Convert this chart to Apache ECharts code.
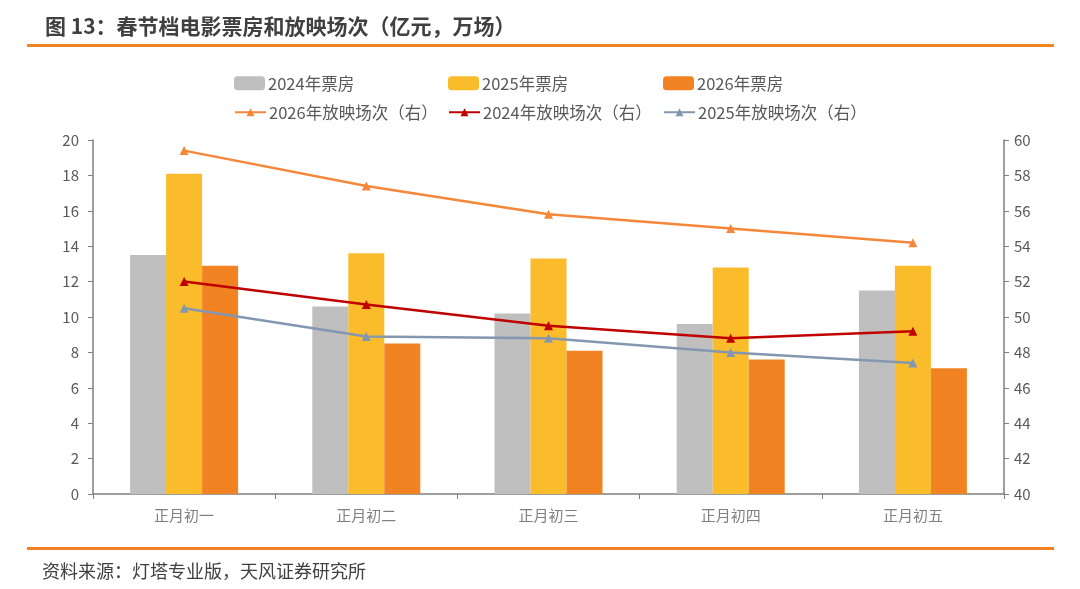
<!DOCTYPE html>
<html>
<head>
<meta charset="utf-8">
<script src="https://cdn.jsdelivr.net/npm/echarts@6/dist/echarts.min.js"></script>
<style>
  html, body { margin: 0; padding: 0; background: #fff; }
  #main { width: 1080px; height: 589px; }
</style>
</head>
<body>
<div id="main"></div>
<script>
// 春节档：正月初一 ~ 初五
const days = ['正月初一', '正月初二', '正月初三', '正月初四', '正月初五'];

// 票房（亿元，左轴）
const box2024 = [13.5, 10.6, 10.2, 9.6, 11.5];
const box2025 = [18.1, 13.6, 13.3, 12.8, 12.9];
const box2026 = [12.9, 8.5, 8.1, 7.6, 7.1];

// 放映场次（万场，右轴）
const shows2026 = [59.4, 57.4, 55.8, 55.0, 54.2];
const shows2024 = [52.0, 50.7, 49.5, 48.8, 49.2];
const shows2025 = [50.5, 48.9, 48.8, 48.0, 47.4];

const axisGray = '#7f7f7f';
const labelGray = '#595959';
const font = '"Noto Sans CJK SC", "Noto Sans", sans-serif';

const myChart = echarts.init(document.getElementById('main'));

function legendAt(name, left, top, isBar) {
  return {
    data: [name],
    left: left,
    top: top,
    itemWidth: 31,
    itemHeight: isBar ? 14 : 10,
    itemGap: 4,
    textStyle: { color: labelGray, fontSize: 16.5, fontFamily: font, padding: [0, 0, 0, -2] }
  };
}

function lineSeries(name, data, color) {
  return {
    name: name,
    type: 'line',
    yAxisIndex: 1,
    data: data,
    symbol: 'triangle',
    symbolSize: 9,
    itemStyle: { color: color },
    lineStyle: { color: color, width: 2.5 },
    z: 5
  };
}

const option = {
  backgroundColor: '#fff',
  animation: false,
  title: {
    text: '图 13：春节档电影票房和放映场次（亿元，万场）',
    left: 40,
    top: 11,
    textStyle: { color: '#404040', fontSize: 21, fontWeight: 'bold', fontFamily: font }
  },
  graphic: [
    { type: 'rect', shape: { x: 27, y: 44, width: 1027, height: 3 }, style: { fill: '#F28322' } },
    { type: 'rect', shape: { x: 27, y: 547, width: 1027, height: 3 }, style: { fill: '#F28322' } },
    {
      type: 'text', left: 42, top: 562,
      style: { text: '资料来源：灯塔专业版，天风证券研究所', fill: '#404040', fontSize: 18, fontFamily: font }
    }
  ],
  legend: [
    legendAt('2024年票房', 229, 70, true),
    legendAt('2025年票房', 443, 70, true),
    legendAt('2026年票房', 658, 70, true),
    legendAt('2026年放映场次（右）', 229, 99, false),
    legendAt('2024年放映场次（右）', 443, 99, false),
    legendAt('2025年放映场次（右）', 658, 99, false)
  ],
  grid: { left: 93, right: 76, top: 140, bottom: 95 },
  xAxis: {
    type: 'category',
    data: days,
    axisLine: { lineStyle: { color: axisGray, width: 1.5 } },
    axisTick: { show: true, length: 5, lineStyle: { color: axisGray } },
    axisLabel: { color: '#808080', fontSize: 15, margin: 14, fontFamily: font }
  },
  yAxis: [
    {
      type: 'value', min: 0, max: 20, interval: 2,
      axisLine: { show: true, lineStyle: { color: axisGray, width: 1.5 } },
      axisTick: { show: true, length: 5, lineStyle: { color: axisGray } },
      splitLine: { show: false },
      axisLabel: { color: labelGray, fontSize: 15, margin: 14, fontFamily: font }
    },
    {
      type: 'value', min: 40, max: 60, interval: 2,
      axisLine: { show: true, lineStyle: { color: axisGray, width: 1.5 } },
      axisTick: { show: true, length: 5, lineStyle: { color: axisGray } },
      splitLine: { show: false },
      axisLabel: { color: labelGray, fontSize: 15, margin: 10, fontFamily: font }
    }
  ],
  series: [
    { name: '2024年票房', type: 'bar', data: box2024, barWidth: 36, barGap: '0%', itemStyle: { color: '#BFBFBF' } },
    { name: '2025年票房', type: 'bar', data: box2025, barWidth: 36, barGap: '0%', itemStyle: { color: '#FBBC2C' } },
    { name: '2026年票房', type: 'bar', data: box2026, barWidth: 36, barGap: '0%', itemStyle: { color: '#F28322' } },
    lineSeries('2026年放映场次（右）', shows2026, '#F5873A'),
    lineSeries('2024年放映场次（右）', shows2024, '#C00000'),
    lineSeries('2025年放映场次（右）', shows2025, '#8497B0')
  ]
};

myChart.setOption(option);
</script>
</body>
</html>
